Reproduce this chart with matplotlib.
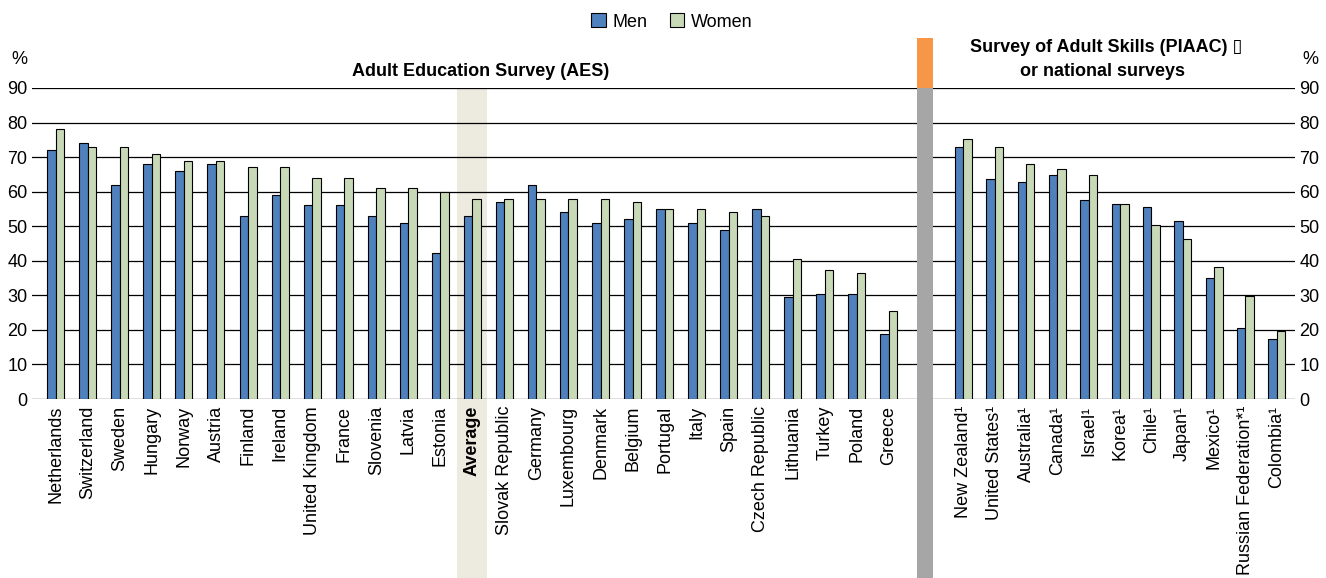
import matplotlib
matplotlib.use("Agg")
import matplotlib.pyplot as plt
import matplotlib.transforms as mtrans
from matplotlib.patches import Patch
import numpy as np

plt.rcParams['font.family'] = ['Liberation Sans', 'DejaVu Sans']

aes_countries = ["Netherlands", "Switzerland", "Sweden", "Hungary", "Norway", "Austria",
                 "Finland", "Ireland", "United Kingdom", "France", "Slovenia", "Latvia",
                 "Estonia", "Average", "Slovak Republic", "Germany", "Luxembourg", "Denmark",
                 "Belgium", "Portugal", "Italy", "Spain", "Czech Republic", "Lithuania",
                 "Turkey", "Poland", "Greece"]
aes_men = [72, 74, 62, 68, 66, 68, 53, 59, 56, 56, 53, 51, 42.3, 53, 57, 62, 54, 51, 52,
           55, 51, 49, 55, 29.5, 30.5, 30.5, 18.8]
aes_women = [78, 73, 73, 71, 69, 69, 67, 67, 64, 64, 61, 61, 60, 58, 58, 58, 58, 58, 57,
             55, 55, 54, 53, 40.5, 37.3, 36.4, 25.5]

piaac_countries = ["New Zealand¹", "United States¹", "Australia¹", "Canada¹", "Israel¹",
                   "Korea¹", "Chile¹", "Japan¹", "Mexico¹", "Russian Federation*¹", "Colombia¹"]
piaac_men = [72.8, 63.6, 62.7, 64.8, 57.5, 56.4, 55.6, 51.5, 35, 20.5, 17.4]
piaac_women = [75.2, 73, 68, 66.7, 64.8, 56.4, 50.3, 46.3, 38.2, 29.8, 19.7]

yticks = [0, 10, 20, 30, 40, 50, 60, 70, 80, 90]

W, H = 1326, 578
fig = plt.figure(figsize=(W / 100, H / 100), dpi=100)
ax = fig.add_axes([31.7 / W, 1 - 399 / H, (1295 - 31.7) / W, (399 - 88) / H])

x_aes = np.arange(len(aes_countries), dtype=float)
x_pi = 28.32 + np.arange(len(piaac_countries)) * 0.978
xs = np.concatenate([x_aes, x_pi])
men = aes_men + piaac_men
women = aes_women + piaac_women
labels = aes_countries + piaac_countries

blue = "#4F81BD"
green = "#C8D9B8"
bw = 0.265
ax.bar(xs - bw / 2, men, bw, color=blue, edgecolor="black", linewidth=0.8, zorder=2)
ax.bar(xs + bw / 2, women, bw, color=green, edgecolor="black", linewidth=0.8, zorder=2)

ax.set_xlim(-0.75, 38.67)
ax.set_ylim(0, 90)

# Average highlight band
avg_i = aes_countries.index("Average")
ax.axvspan(avg_i - 0.47, avg_i + 0.47, ymin=-0.58, ymax=1.0, color="#EDEBE0",
           zorder=0.2, clip_on=False, linewidth=0)
# separator
sep = 27.12
ax.axvspan(sep - 0.25, sep + 0.25, ymin=-0.58, ymax=1.0, color="#A6A6A6",
           zorder=3, clip_on=False, linewidth=0)
ax.axvspan(sep - 0.25, sep + 0.25, ymin=1.0, ymax=1.161, color="#F79646",
           zorder=3, clip_on=False, linewidth=0)

ax.set_yticks(yticks)
ax.yaxis.grid(True, color="black", linewidth=0.9)
ax.set_axisbelow(True)
for s in ax.spines.values():
    s.set_visible(False)
ax.tick_params(axis="y", length=0, labelsize=13, labelleft=True, labelright=True, pad=3)
ax.tick_params(axis="x", length=0, labelsize=13, pad=5)
ax.set_xticks(xs)
ax.set_xticklabels(labels, rotation=90, ha="center", va="top")
for t in ax.get_xticklabels():
    if t.get_text() == "Average":
        t.set_fontweight("bold")

fig.text(19 / W, 1 - 60 / H, "%", fontsize=13, ha="center", va="center")
fig.text(1310 / W, 1 - 60 / H, "%", fontsize=13, ha="center", va="center")
fig.text(481 / W, 1 - 71 / H, "Adult Education Survey (AES)", fontsize=13,
         fontweight="bold", ha="center", va="center")
fig.text(1106 / W, 1 - 47 / H, "Survey of Adult Skills (PIAAC) \u25AF", fontsize=13,
         fontweight="bold", ha="center", va="center")
fig.text(1102 / W, 1 - 71 / H, "or national surveys", fontsize=13,
         fontweight="bold", ha="center", va="center")

handles = [Patch(facecolor=blue, edgecolor="black", linewidth=0.8, label="Men"),
           Patch(facecolor=green, edgecolor="black", linewidth=0.8, label="Women")]
fig.legend(handles=handles, loc="center", bbox_to_anchor=(672 / W, 1 - 22 / H), ncol=2,
           frameon=False, fontsize=13, handlelength=0.8, handleheight=0.8,
           handletextpad=0.4, columnspacing=1.2)

fig.savefig("out.png", dpi=100)
